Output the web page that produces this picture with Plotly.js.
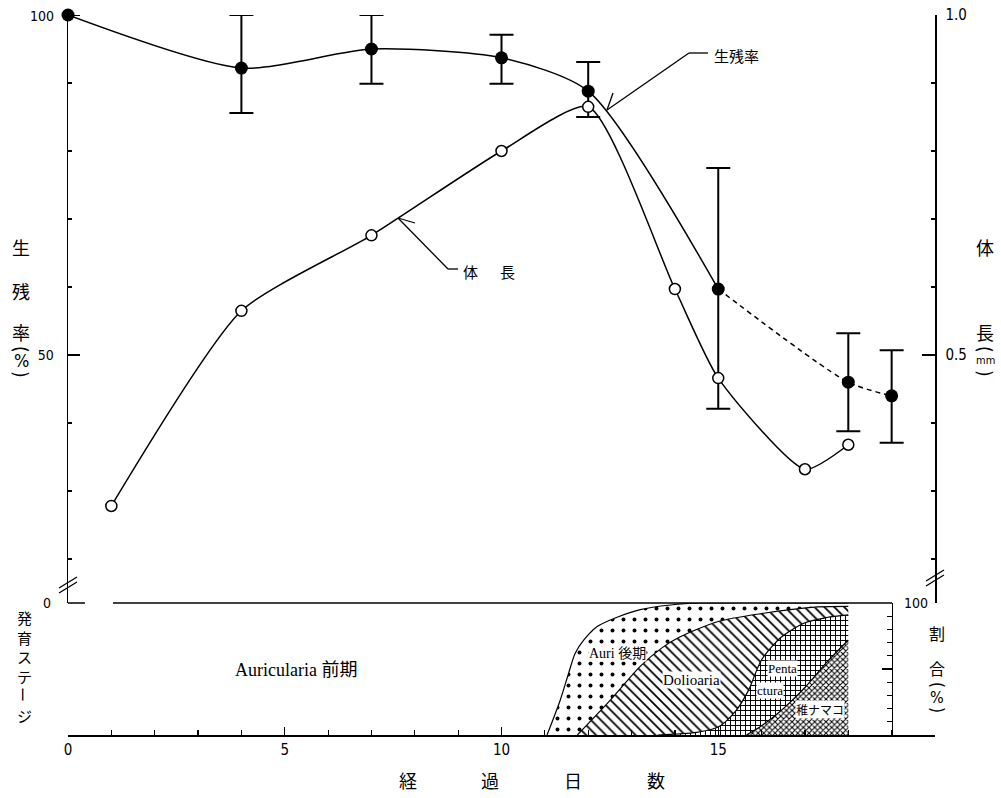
<!DOCTYPE html>
<html><head><meta charset="utf-8">
<script src="https://cdn.plot.ly/plotly-3.0.1.min.js"></script>
<style>html,body{margin:0;padding:0;background:#fff}#chart{width:1001px;height:798px}</style>
</head><body><div id="chart"></div>
<script>
// ---- data ----
const survDays   = [0, 4, 7, 10, 12, 15, 18, 19];
const survival   = [100, 92.2, 95.0, 93.7, 88.8, 59.7, 46.0, 44.0];
const survErrUp  = [null, 7.8, 5.0, 3.4, 4.3, 17.8, 7.2, 6.7];
const survErrDn  = [null, 6.6, 5.1, 3.8, 3.8, 17.6, 7.2, 6.9];
const solidCount = 6;   // points joined by the solid line (day 0 to 15)

const lenDays    = [1, 4, 7, 10, 12, 14, 15, 17, 18];
const bodyLength = [0.278, 0.565, 0.676, 0.800, 0.865, 0.597, 0.466, 0.332, 0.368];

// development stage boundaries (cumulative %, bottom up)
const juvX   = [15.65, 16.0, 16.5, 17.0, 17.5, 18.0];
const juvY   = [0, 7, 20, 36, 55, 72];
const pentaX = [13.6, 14.5, 15.0, 15.4, 15.7, 16.0, 16.45, 17.0, 17.5, 18.0];
const pentaY = [0, 2, 6, 18, 34, 57, 74, 85, 89, 91];
const dolioX = [11.75, 12.5, 13.2, 13.7, 14.1, 15.0, 16.0, 17.3, 18.0];
const dolioY = [0, 26, 52, 66, 74, 86, 92, 97, 97.5];
const auriX  = [11.05, 11.35, 11.55, 11.7, 11.9, 12.2, 12.65, 13.2, 13.9, 14.6, 18.0];
const auriY  = [0, 26, 47, 62, 72, 82, 89, 95, 98.5, 100, 100];

const xTickVals = [0, 5, 10, 15, 20];
const xTickText = ['0', '5', '10', '15', ''];

// ---- layout helpers (pixel -> paper) ----
const L = 68, T = 15, W = 867, H = 720;
const px = x => (x - L) / W;
const py = y => (T + H - y) / H;
const split = py(603);

const CJK = '"Noto Sans CJK JP", sans-serif';
const NUM = '"Liberation Sans Narrow", "DejaVu Sans Condensed", "Liberation Sans", sans-serif';
const SERIF = '"Liberation Serif", "Noto Sans CJK JP", serif';

const traces = [];
traces.push({x: survDays.slice(0, solidCount), y: survival.slice(0, solidCount), mode: 'lines',
  line: {color: 'black', width: 1.5, shape: 'spline', smoothing: 0.7}, xaxis: 'x', yaxis: 'y',
  cliponaxis: false, hoverinfo: 'skip'});
traces.push({x: survDays.slice(solidCount - 1), y: survival.slice(solidCount - 1), mode: 'lines',
  line: {color: 'black', width: 1.5, dash: '5px,4px', shape: 'spline', smoothing: 0.7},
  xaxis: 'x', yaxis: 'y', hoverinfo: 'skip'});
traces.push({x: lenDays, y: bodyLength, mode: 'lines+markers',
  line: {color: 'black', width: 1.5, shape: 'spline', smoothing: 0.6},
  marker: {symbol: 'circle', size: 11, color: 'white', line: {color: 'black', width: 1.5}},
  xaxis: 'x', yaxis: 'y2'});
traces.push({x: survDays, y: survival, mode: 'markers', cliponaxis: false,
  marker: {symbol: 'circle', size: 13, color: 'black'},
  error_y: {type: 'data', symmetric: false, array: survErrUp, arrayminus: survErrDn,
            color: 'black', thickness: 2, width: 12},
  xaxis: 'x', yaxis: 'y'});

const stageLine = {color: 'black', width: 1.2, shape: 'spline', smoothing: 0.8};
traces.push({x: juvX, y: juvY, mode: 'lines', fill: 'tozeroy', line: stageLine,
  fillcolor: 'white', fillpattern: {shape: 'x', size: 4, solidity: 0.45, fgcolor: 'black', bgcolor: 'white'},
  xaxis: 'x', yaxis: 'y3'});
traces.push({x: pentaX, y: pentaY, mode: 'lines', fill: 'tonexty', line: stageLine,
  fillcolor: 'white', fillpattern: {shape: '+', size: 5, solidity: 0.35, fgcolor: 'black', bgcolor: 'white'},
  xaxis: 'x', yaxis: 'y3'});
traces.push({x: dolioX, y: dolioY, mode: 'lines', fill: 'tonexty', line: stageLine,
  fillcolor: 'white', fillpattern: {shape: '\\', size: 7, solidity: 0.25, fgcolor: 'black', bgcolor: 'white'},
  xaxis: 'x', yaxis: 'y3'});
traces.push({x: auriX, y: auriY, mode: 'lines', fill: 'tonexty', line: stageLine,
  fillcolor: 'white', fillpattern: {shape: '.', size: 11, solidity: 0.1, fgcolor: 'black', bgcolor: 'white'},
  xaxis: 'x', yaxis: 'y3'});

const topMin = 100 - 588 / 6.8;

function ann(text, x, y, size, family, extra) {
  return Object.assign({text: text, x: px(x), y: py(y), xref: 'paper', yref: 'paper',
    showarrow: false, xanchor: 'center', yanchor: 'middle',
    font: {size: size, family: family, color: 'black'}}, extra || {});
}
function seg(x0, y0, x1, y1, w) {
  return {type: 'line', xref: 'paper', yref: 'paper', x0: px(x0), y0: py(y0), x1: px(x1), y1: py(y1),
    line: {color: 'black', width: w || 1.5}};
}
const rot = {textangle: 90};

const annotations = [
  ann('100', 42, 16, 14, NUM), ann('0', 47, 603, 14, NUM),
  ann('生', 21, 247, 18, CJK), ann('残', 21, 291, 18, CJK), ann('率', 21, 332, 18, CJK),
  ann('(', 21, 349, 19, NUM, rot), ann('%', 21, 361, 18, NUM), ann(')', 21, 374, 19, NUM, rot),
  ann('体', 985, 247, 18, CJK), ann('長', 985, 332, 18, CJK),
  ann('(', 985, 349, 19, NUM, rot), ann('mm', 985, 361, 11, NUM), ann(')', 985, 373, 19, NUM, rot),
  ann('発<br>育<br>ス<br>テ', 24, 647, 15, CJK),
  ann('ー', 24, 694, 15, CJK, rot), ann('ジ', 24, 715, 15, CJK),
  ann('割', 937, 633, 16, CJK), ann('合', 937, 668, 16, CJK),
  ann('(', 937, 685, 17, NUM, rot), ann('%', 937, 697, 16, NUM), ann(')', 937, 710, 17, NUM, rot),
  ann('経', 408, 780, 18, CJK), ann('過', 490, 780, 18, CJK),
  ann('日', 573, 780, 18, CJK), ann('数', 656, 780, 18, CJK),
  ann('生残率', 736, 55, 15, CJK), ann('体', 470, 272, 15, CJK), ann('長', 508, 272, 15, CJK),
  ann('Auricularia 前期', 296, 670, 18, SERIF),
  ann('Auri 後期', 617, 653, 14, SERIF, {bgcolor: 'white', borderpad: 0}),
  ann('Dolioaria', 691, 680, 15, SERIF, {bgcolor: 'white', borderpad: 0}),
  ann('Penta', 782, 668, 13, SERIF, {bgcolor: 'white', borderpad: 0}),
  ann('ctura', 770, 690, 13, SERIF, {bgcolor: 'white', borderpad: 0}),
  ann('稚ナマコ', 820, 709, 12, CJK, {bgcolor: 'white', borderpad: 0})
];

const shapes = [
  seg(68, 603, 85, 603), seg(113, 603, 892, 603),
  seg(59, 588, 77, 577, 1.3), seg(59, 593, 77, 582, 1.3),
  seg(926, 581, 944, 570, 1.3), seg(926, 586, 944, 575, 1.3),
  seg(689, 53, 708, 53, 1.3), seg(689, 53, 607, 110, 1.3), seg(607, 110, 613, 93, 1.3),
  seg(448, 269, 458, 269, 1.3), seg(448, 269, 398, 218, 1.3), seg(398, 218, 415, 223, 1.3)
];

const layout = {
  width: 1001, height: 798, showlegend: false,
  paper_bgcolor: 'white', plot_bgcolor: 'rgba(0,0,0,0)',
  margin: {l: L, r: 1001 - L - W, t: T, b: 798 - T - H},
  xaxis: {domain: [0, 1], range: [0, 20], anchor: 'y3', showline: true, linewidth: 1.5, linecolor: 'black',
    showgrid: false, zeroline: false, ticks: 'inside', ticklen: 8, tickwidth: 1.3, tickcolor: 'black',
    tickvals: xTickVals, ticktext: xTickText, tickfont: {size: 15, family: NUM, color: 'black'},
    minor: {dtick: 1, ticks: 'inside', ticklen: 5, tickwidth: 1.2, tickcolor: 'black', showgrid: false}},
  yaxis: {domain: [split, 1], range: [topMin, 100], anchor: 'x', showline: true, linewidth: 1.5,
    linecolor: 'black', showgrid: false, zeroline: false, ticks: 'inside', ticklen: 12, tickwidth: 1.3,
    tickcolor: 'black', tickvals: [50], ticktext: ['50'], ticklabelstandoff: 10,
    tickfont: {size: 14, family: NUM, color: 'black'},
    minor: {tickvals: [20, 30, 40, 60, 70, 80, 90], ticks: 'inside', ticklen: 4, tickwidth: 1.2,
            tickcolor: 'black', showgrid: false}},
  yaxis2: {overlaying: 'y', side: 'right', anchor: 'x', range: [topMin / 100, 1], showline: true,
    linewidth: 1.5, linecolor: 'black', showgrid: false, zeroline: false, ticks: 'inside', ticklen: 13,
    tickwidth: 1.3, tickcolor: 'black', tickvals: [0.5, 1.0], ticktext: ['0.5', '1.0'],
    ticklabelstandoff: 6, tickfont: {size: 15, family: NUM, color: 'black'},
    minor: {tickvals: [0.2, 0.3, 0.4, 0.6, 0.7, 0.8, 0.9], ticks: 'inside', ticklen: 4, tickwidth: 1.2,
            tickcolor: 'black', showgrid: false}},
  yaxis3: {domain: [0, split], range: [0, 100], anchor: 'free', position: 0.95, side: 'right',
    showline: true, linewidth: 1.5, linecolor: 'black', showgrid: false, zeroline: false,
    ticks: 'inside', ticklen: 10, tickwidth: 1.3, tickcolor: 'black', tickvals: [50, 100],
    ticktext: ['', '100'], ticklabelstandoff: 8, tickfont: {size: 14, family: NUM, color: 'black'},
    minor: {tickvals: [10, 20, 30, 40, 60, 70, 80, 90], ticks: 'inside', ticklen: 5, tickwidth: 1.2,
            tickcolor: 'black', showgrid: false}},
  annotations: annotations,
  shapes: shapes
};

Plotly.newPlot('chart', traces, layout, {staticPlot: true});
</script>
</body></html>
